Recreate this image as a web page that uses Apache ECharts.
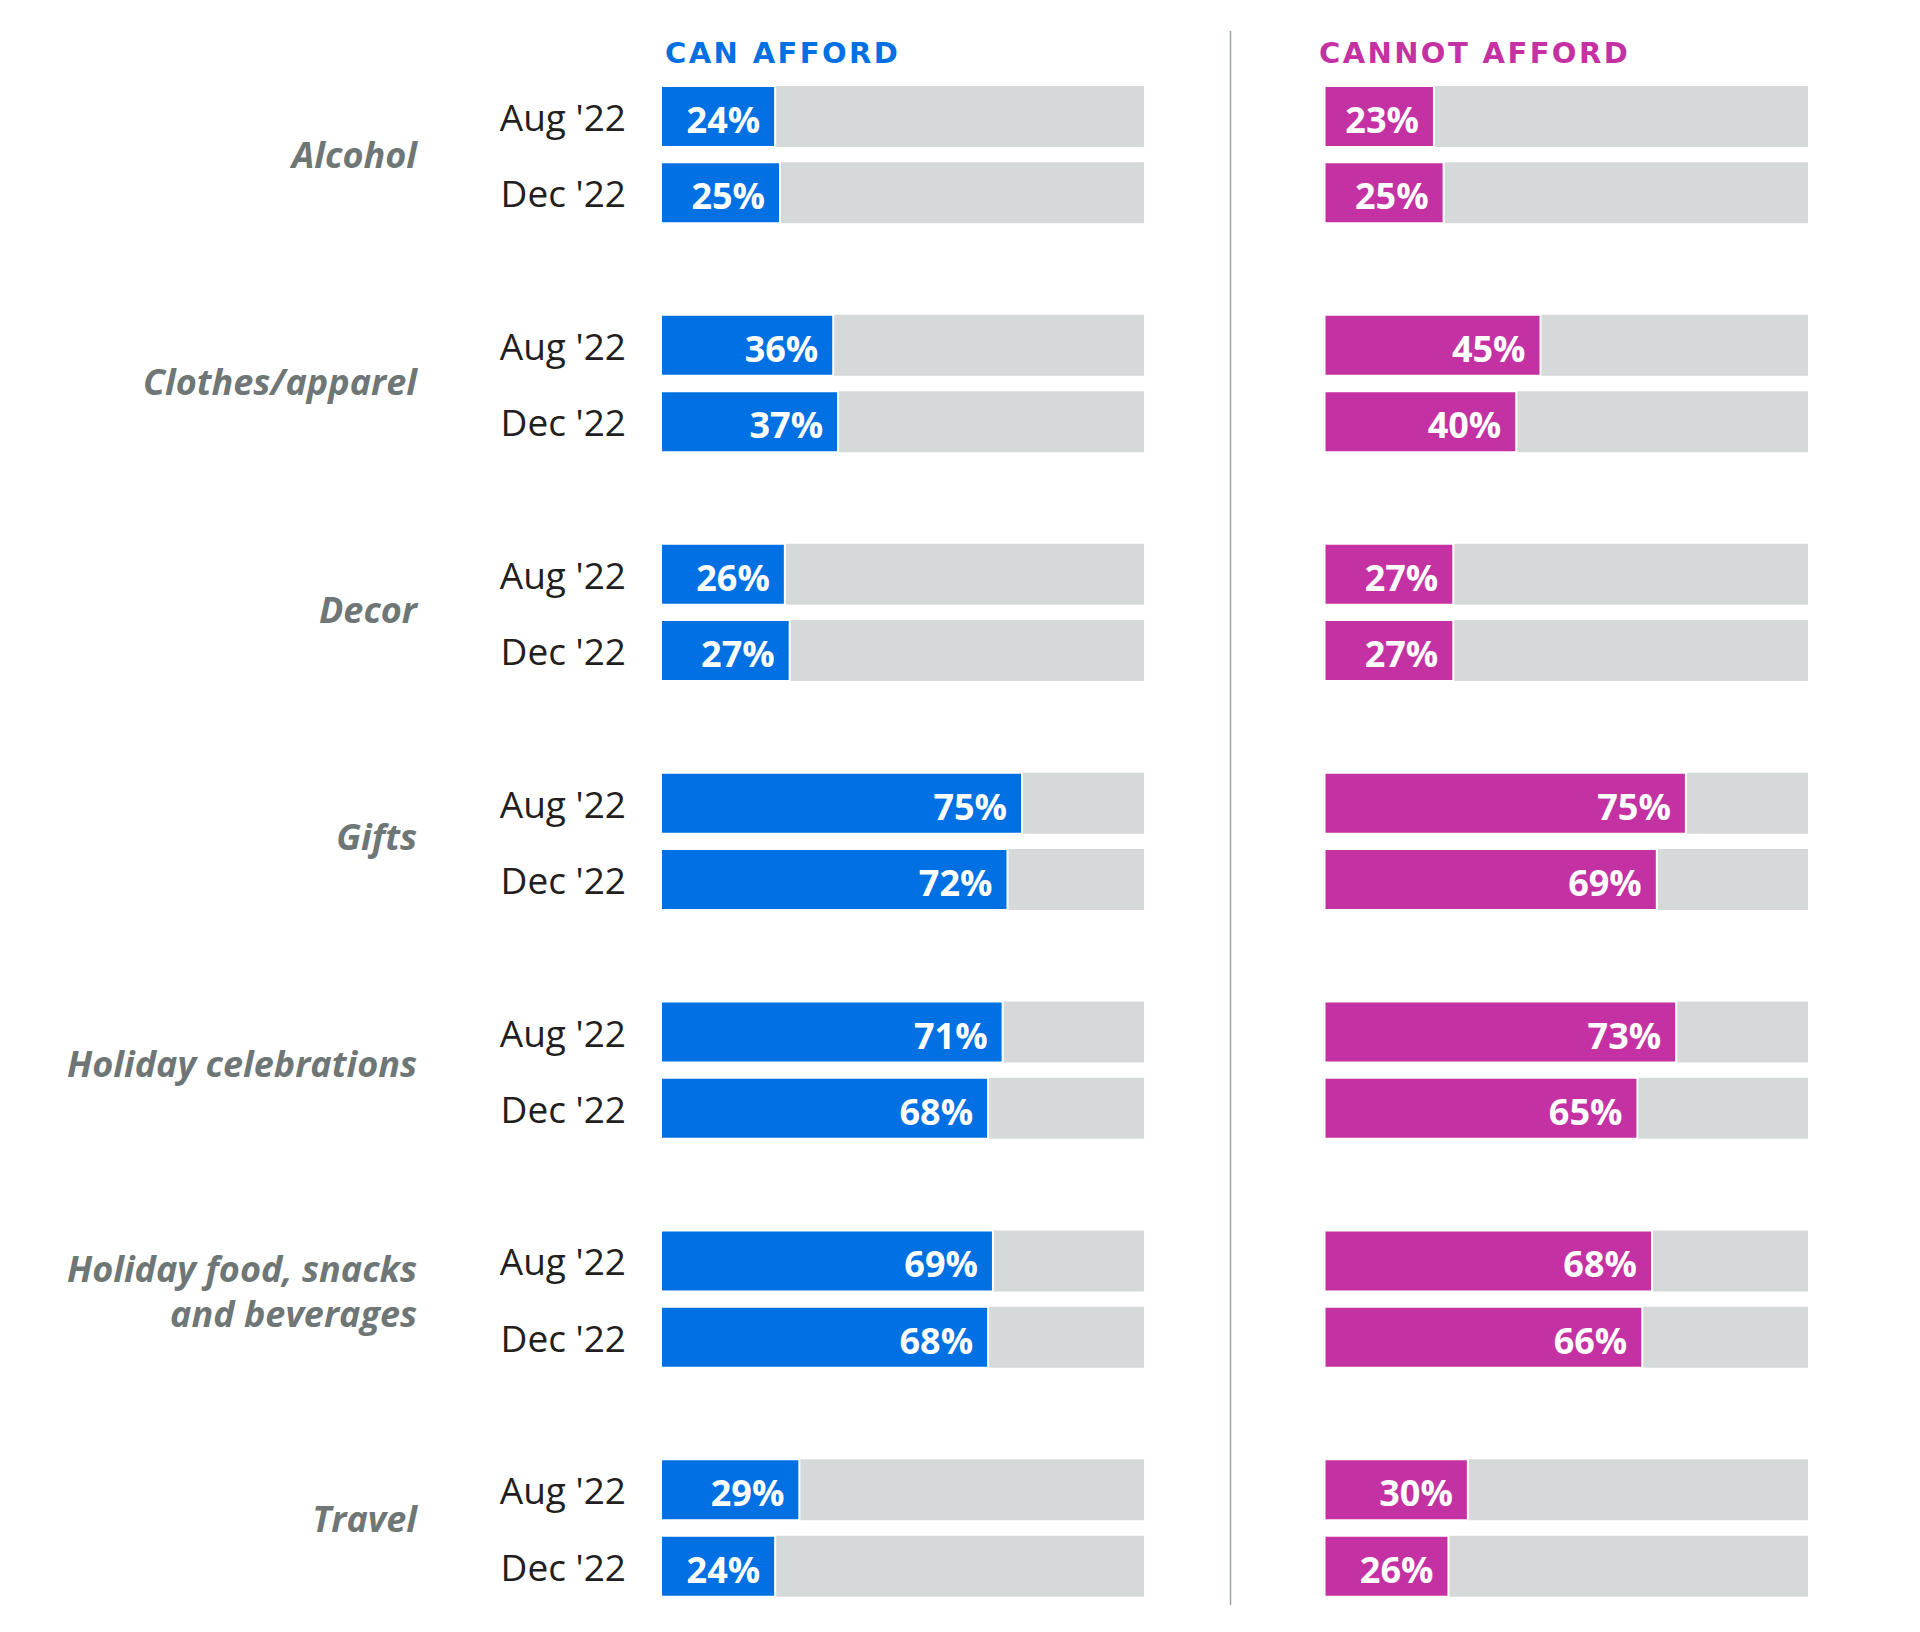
<!DOCTYPE html>
<html>
<head>
<meta charset="utf-8">
<script src="https://cdn.jsdelivr.net/npm/echarts@6/dist/echarts.min.js"></script>
<style>
html,body{margin:0;padding:0;background:#fff;}
#chart{width:1920px;height:1632px;}
#chart text[fill="#0070e3"], #chart text[fill="#c431a3"] { letter-spacing: 2.4px; }
</style>
</head>
<body>
<div id="chart"></div>
<script>
const groups = ['Alcohol', 'Clothes/apparel', 'Decor', 'Gifts', 'Holiday celebrations', 'Holiday food, snacks\nand beverages', 'Travel'];
const periods = ["Aug '22", "Dec '22"];
const canAug = [24, 36, 26, 75, 71, 69, 29];
const canDec = [25, 37, 27, 72, 68, 68, 24];
const cannotAug = [23, 45, 27, 75, 73, 68, 30];
const cannotDec = [25, 40, 27, 69, 65, 66, 26];
const panelTitles = ['CAN AFFORD', 'CANNOT AFFORD'];

// Slot layout: Aug, Dec, gap per group (no gap after the last group)
const dateCats = [], groupCats = [], track = [];
function slots(a, d) {
  const out = [];
  groups.forEach((g, i) => {
    out.push(a[i], d[i]);
    if (i < groups.length - 1) out.push('-');
  });
  return out;
}
groups.forEach((g, i) => {
  dateCats.push(periods[0], periods[1]);
  groupCats.push(g, '');
  track.push(100, 100);
  if (i < groups.length - 1) { dateCats.push(''); groupCats.push(''); track.push('-'); }
});

const BLUE = '#0070e3', PINK = '#c431a3', GRAY = '#d6d9da';
const barW = 61;
const TOP = 78.3, H = 1526, SLOT = H / 20;

function valueLabel() {
  return {
    show: true, position: 'insideRight', distance: 16, offset: [0, 3],
    formatter: '{c}%', color: '#fff', fontWeight: 'bold', fontSize: 36,
    fontFamily: 'Open Sans'
  };
}
function hiddenCat(grid) {
  return { gridIndex: grid, type: 'category', data: dateCats, inverse: true, show: false };
}

const chart = echarts.init(document.getElementById('chart'), null, { renderer: 'svg' });
chart.setOption({
  animation: false,
  backgroundColor: '#fff',
  title: [
    { text: panelTitles[0], left: 660, top: 33,
      textStyle: { color: BLUE, fontSize: 29, fontWeight: 'bold', fontFamily: 'DejaVu Sans' } },
    { text: panelTitles[1], left: 1314, top: 33,
      textStyle: { color: PINK, fontSize: 29, fontWeight: 'bold', fontFamily: 'DejaVu Sans' } }
  ],
  grid: [
    { left: 660, width: 484, top: TOP, height: H },
    { left: 1323.5, width: 484.5, top: TOP, height: H },
    { left: 660, width: 484, top: TOP + SLOT / 2, height: H }
  ],
  xAxis: [
    { gridIndex: 0, type: 'value', min: 0, max: 100, show: false },
    { gridIndex: 1, type: 'value', min: 0, max: 100, show: false },
    { gridIndex: 2, type: 'value', min: 0, max: 100, show: false }
  ],
  yAxis: [
    { gridIndex: 0, type: 'category', data: dateCats, inverse: true, position: 'left',
      axisLine: { show: false }, axisTick: { show: false },
      axisLabel: { interval: 0, margin: 34, fontSize: 37, color: '#231f20', fontFamily: 'Open Sans' } },
    hiddenCat(1),
    { gridIndex: 2, type: 'category', data: groupCats, inverse: true, position: 'left',
      axisLine: { show: false }, axisTick: { show: false },
      axisLabel: { interval: 0, margin: 243, fontSize: 36, color: '#6e7676', fontFamily: 'Open Sans',
        fontStyle: 'italic', fontWeight: 'bold', lineHeight: 45, align: 'right' } },
    hiddenCat(0),
    hiddenCat(1)
  ],
  graphic: [
    { type: 'line', shape: { x1: 1230.5, y1: 31, x2: 1230.5, y2: 1605 },
      style: { stroke: '#9ea3a6', lineWidth: 1.5 }, silent: true }
  ],
  series: [
    { type: 'bar', xAxisIndex: 0, yAxisIndex: 0, data: track, barWidth: barW,
      itemStyle: { color: GRAY }, silent: true },
    { type: 'bar', xAxisIndex: 0, yAxisIndex: 3, data: slots(canAug, canDec), barWidth: barW + 2,
      itemStyle: { color: BLUE, borderColor: '#fff', borderWidth: 2 },
      label: valueLabel() },
    { type: 'bar', xAxisIndex: 1, yAxisIndex: 1, data: track, barWidth: barW,
      itemStyle: { color: GRAY }, silent: true },
    { type: 'bar', xAxisIndex: 1, yAxisIndex: 4, data: slots(cannotAug, cannotDec), barWidth: barW + 2,
      itemStyle: { color: PINK, borderColor: '#fff', borderWidth: 2 },
      label: valueLabel() }
  ]
});
</script>
</body>
</html>
